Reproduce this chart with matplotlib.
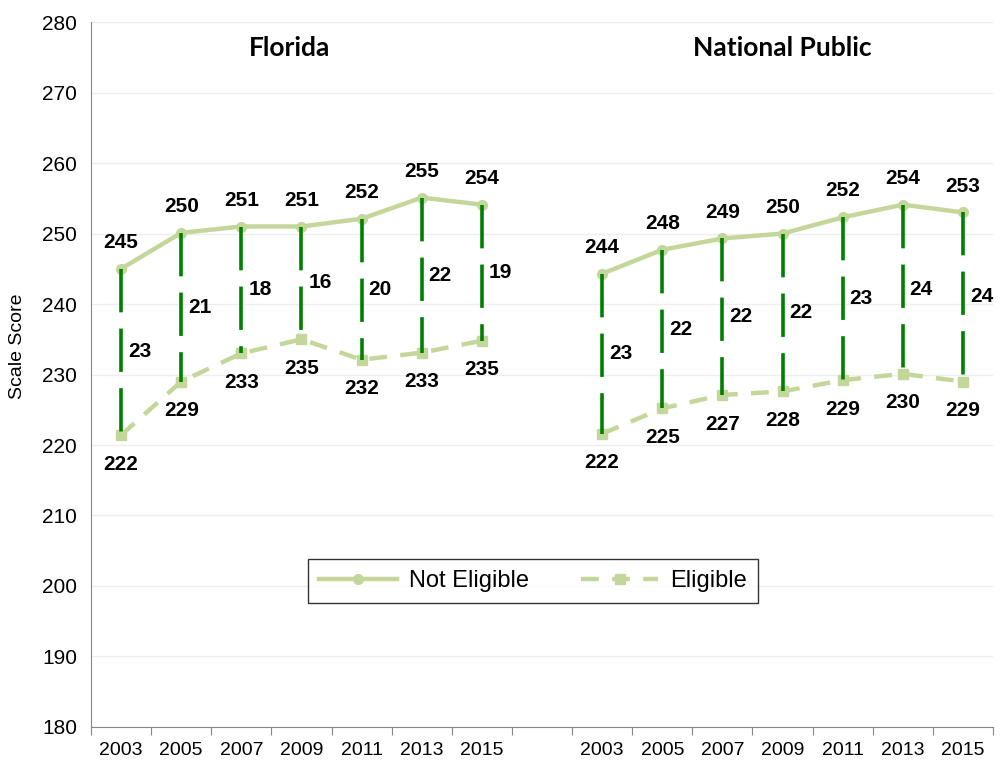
import matplotlib
matplotlib.use('Agg')
import matplotlib.pyplot as plt

plt.rcParams['font.family'] = ['Liberation Sans', 'DejaVu Sans']

years = ['2003', '2005', '2007', '2009', '2011', '2013', '2015']

# Florida
fl_not_eligible = [245.0, 250.1, 251.0, 251.0, 252.1, 255.1, 254.1]
fl_eligible = [221.4, 229.0, 233.0, 235.0, 232.1, 233.1, 234.8]
fl_ne_labels = ['245', '250', '251', '251', '252', '255', '254']
fl_e_labels = ['222', '229', '233', '235', '232', '233', '235']
fl_gaps = ['23', '21', '18', '16', '20', '22', '19']

# National Public
np_not_eligible = [244.3, 247.7, 249.3, 250.0, 252.3, 254.1, 253.0]
np_eligible = [221.6, 225.2, 227.1, 227.6, 229.2, 230.1, 229.0]
np_ne_labels = ['244', '248', '249', '250', '252', '254', '253']
np_e_labels = ['222', '225', '227', '228', '229', '230', '229']
np_gaps = ['23', '22', '22', '22', '23', '24', '24']

titles = ['Florida', 'National Public']

light = '#C4D79B'
dark = '#008000'

fig = plt.figure(figsize=(10, 7.62), dpi=100)
ax = fig.add_axes([0.091, 0.046, 0.902, 0.925])

panels = [
    (fl_not_eligible, fl_eligible, fl_ne_labels, fl_e_labels, fl_gaps),
    (np_not_eligible, np_eligible, np_ne_labels, np_e_labels, np_gaps),
]

for p, (ne, el, nel, elab, gaps) in enumerate(panels):
    xs = [p * 8 + i for i in range(len(years))]
    # gap lines
    for x, top, bot, g in zip(xs, ne, el, gaps):
        ax.plot([x, x], [top, bot], color=dark, lw=2.6, dashes=(12, 4.5),
                solid_capstyle='butt', dash_capstyle='butt', zorder=3)
        ax.annotate(g, (x, (top + bot) / 2), xytext=(5, 0), textcoords='offset points',
                    ha='left', va='center', fontsize=15, fontweight='bold')
    ax.plot(xs, ne, color=light, lw=3.2, marker='o', ms=7, zorder=2,
            label='Not Eligible' if p == 0 else None)
    ax.plot(xs, el, color=light, lw=3.2, marker='s', ms=7, dashes=(4, 3), zorder=2,
            label='Eligible' if p == 0 else None)
    for x, v, t in zip(xs, ne, nel):
        ax.annotate(t, (x, v), xytext=(0, 19), textcoords='offset points',
                    ha='center', va='center', fontsize=15, fontweight='bold')
    for x, v, t in zip(xs, el, elab):
        ax.annotate(t, (x, v), xytext=(0, -21), textcoords='offset points',
                    ha='center', va='center', fontsize=15, fontweight='bold')

ax.text(2.8, 276.3, titles[0], ha='center', va='center', fontsize=19,
        fontweight='bold', family=['Lato', 'DejaVu Sans'])
ax.text(11.0, 276.3, titles[1], ha='center', va='center', fontsize=19,
        fontweight='bold', family=['Lato', 'DejaVu Sans'])

ax.set_xlim(-0.5, 14.5)
ax.set_ylim(180, 280)
ax.set_yticks(range(180, 281, 10))
ax.set_xticks([i - 0.5 for i in range(16)])
ax.set_xticklabels([])
ax.set_xticks(list(range(7)) + list(range(8, 15)), minor=True)
ax.set_xticklabels(years + years, minor=True)
ax.tick_params(axis='x', which='major', length=6, color='#868686', direction='out')
ax.tick_params(axis='x', which='minor', length=0, labelsize=14, pad=11)
ax.tick_params(axis='y', length=0, labelsize=15, pad=10)
ax.grid(axis='y', color='#EEEEEE', lw=1)
ax.set_axisbelow(True)
for s in ['top', 'right']:
    ax.spines[s].set_visible(False)
ax.spines['left'].set_color('#868686')
ax.spines['bottom'].set_color('#868686')
ax.set_ylabel('Scale Score', fontsize=14)
ax.yaxis.set_label_coords(-0.072, 0.54)

leg = ax.legend(loc='center', bbox_to_anchor=(0.49, 0.207), ncol=2, fontsize=17,
                frameon=True, fancybox=False, edgecolor='black', handlelength=3.3,
                columnspacing=2.2, borderpad=0.45, handletextpad=0.5)
leg.get_frame().set_linewidth(1)

fig.savefig('out.png', dpi=100)
